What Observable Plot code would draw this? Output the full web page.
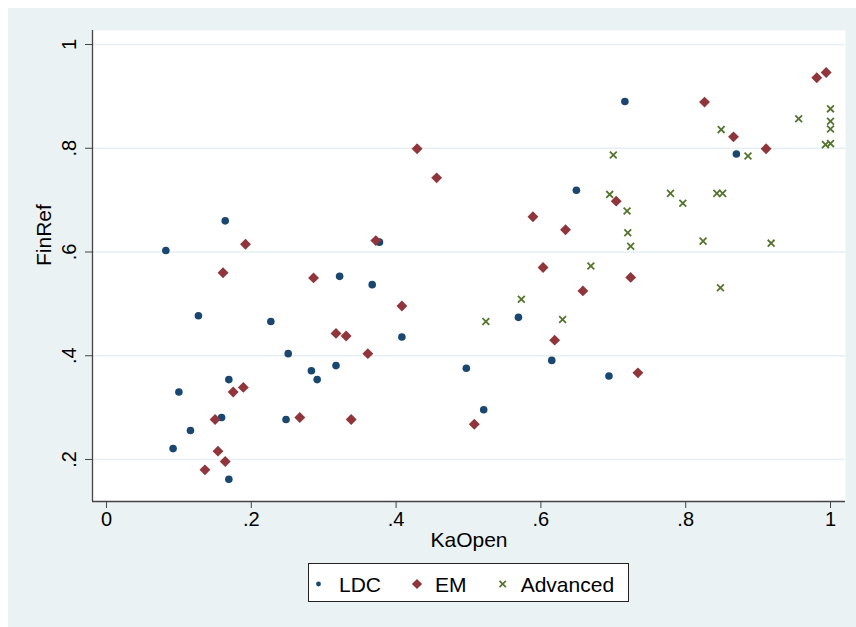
<!DOCTYPE html>
<html><head><meta charset="utf-8">
<script src="https://cdn.jsdelivr.net/npm/d3@7"></script>
<script src="https://cdn.jsdelivr.net/npm/@observablehq/plot@0.6"></script>
<style>
html,body{margin:0;padding:0;background:#fff;}
#wrap{position:relative;width:856px;height:627px;overflow:hidden;font-family:"Liberation Sans",Arial,sans-serif;}
#panel{position:absolute;left:8px;top:8px;right:0;bottom:0;background:#EAF2F3;}
#chart{position:absolute;left:0;top:0;}
#legend{position:absolute;left:308px;top:563px;}
</style></head><body>
<div id="wrap"><div id="panel"></div><div id="chart"></div><div id="legend"></div></div>
<script>
const seriesNames = ["LDC", "EM", "Advanced"];
const seriesColors = ["#1a476f", "#90353b", "#55752f"];

const ldcX = [0.082,0.164,0.377,0.716,0.870,0.649,0.569,0.615,0.497,0.694,0.521,0.322,0.367,0.127,0.227,0.408,0.251,0.283,0.317,0.291,0.169,0.100,0.159,0.248,0.116,0.092,0.169];
const ldcY = [0.603,0.660,0.619,0.890,0.789,0.719,0.474,0.391,0.376,0.361,0.296,0.553,0.537,0.477,0.466,0.436,0.404,0.371,0.381,0.354,0.354,0.330,0.281,0.277,0.256,0.221,0.162];

const emX = [0.192,0.372,0.429,0.456,0.826,0.981,0.994,0.866,0.911,0.704,0.589,0.634,0.603,0.724,0.658,0.619,0.734,0.508,0.161,0.286,0.408,0.317,0.331,0.361,0.189,0.175,0.150,0.267,0.338,0.154,0.164,0.136];
const emY = [0.615,0.622,0.799,0.743,0.889,0.936,0.946,0.822,0.799,0.698,0.668,0.643,0.570,0.551,0.525,0.430,0.367,0.268,0.560,0.550,0.496,0.443,0.438,0.404,0.339,0.330,0.277,0.281,0.277,0.216,0.196,0.180];

const advX = [1.000,0.956,1.000,1.000,0.849,0.993,1.000,0.886,0.700,0.695,0.779,0.796,0.843,0.851,0.719,0.720,0.724,0.824,0.918,0.669,0.848,0.573,0.524,0.630];
const advY = [0.876,0.857,0.852,0.837,0.836,0.807,0.809,0.785,0.787,0.711,0.713,0.694,0.713,0.713,0.679,0.637,0.611,0.621,0.617,0.573,0.531,0.509,0.466,0.470];

const xTicks = [0, 0.2, 0.4, 0.6, 0.8, 1];
const xTickLabels = ["0", ".2", ".4", ".6", ".8", "1"];
const yTicks = [0.2, 0.4, 0.6, 0.8, 1];
const yTickLabels = [".2", ".4", ".6", ".8", "1"];
const xTitle = "KaOpen";
const yTitle = "FinRef";

const xDomain = [-0.0193, 1.0207];
const yDomain = [0.119, 1.027];

const rows = (xs, ys, s) => xs.map((x, i) => ({x, y: ys[i], s}));
const ldc = rows(ldcX, ldcY, seriesNames[0]);
const em = rows(emX, emY, seriesNames[1]);
const adv = rows(advX, advY, seriesNames[2]);

const font = "'Liberation Sans', Arial, sans-serif";

const chart = Plot.plot({
  width: 856,
  height: 560,
  marginLeft: 92,
  marginRight: 11,
  marginTop: 30,
  marginBottom: 59,
  style: {background: "transparent", fontFamily: font, fontSize: "20px", color: "#000", overflow: "visible"},
  x: {domain: xDomain},
  y: {domain: yDomain},
  marks: [
    Plot.frame({fill: "white", stroke: "none"}),
    Plot.ruleY(yTicks, {stroke: "#E6EFF1", strokeWidth: 1.6}),
    Plot.ruleX([xDomain[0]], {stroke: "#444", strokeWidth: 1.3}),
    Plot.ruleY([yDomain[0]], {stroke: "#444", strokeWidth: 1.3}),
    Plot.axisX({ticks: xTicks, tickFormat: (d, i) => xTickLabels[i], tickSize: 7, tickPadding: 3, fontSize: 20, stroke: "#444", fill: "#000", label: null}),
    Plot.axisY({ticks: yTicks, tickFormat: (d, i) => yTickLabels[i], tickSize: 7, tickPadding: 10, tickRotate: -90, fontSize: 20, stroke: "#444", fill: "#000", label: null}),
    Plot.text([xTitle], {text: d => d, frameAnchor: "bottom", dy: 38.5, fontSize: 21, lineAnchor: "middle", fill: "#000"}),
    Plot.text([yTitle], {text: d => d, frameAnchor: "left", dx: -48.5, rotate: -90, fontSize: 21, lineAnchor: "middle", fill: "#000"}),
    Plot.dot(ldc, {x: "x", y: "y", r: 3.8, symbol: "circle", fill: seriesColors[0], stroke: "none"}),
    Plot.dot(em, {x: "x", y: "y", r: 4.9, symbol: "diamond2", fill: seriesColors[1], stroke: "none"}),
    Plot.dot(adv, {x: "x", y: "y", r: 3.2, symbol: "times", stroke: seriesColors[2], strokeWidth: 1.8, fill: "none"})
  ]
});
document.getElementById("chart").appendChild(chart);

// Legend
const lg = d3.select("#legend").append("svg")
  .attr("width", 321).attr("height", 39).style("display", "block")
  .style("font-family", font);
lg.append("rect").attr("x", 0.5).attr("y", 0.5).attr("width", 320).attr("height", 38)
  .attr("fill", "#fff").attr("stroke", "#222").attr("stroke-width", 1);
const legendMarkerX = [10.5, 109, 194.7];
const legendTextX = [31, 127, 212.7];
const syms = [d3.symbolCircle, d3.symbolDiamond2, d3.symbolTimes];
const rs = [2.4, 4.6, 3];
seriesNames.forEach((name, i) => {
  const g = lg.append("path")
    .attr("transform", `translate(${legendMarkerX[i]},21)`)
    .attr("d", d3.symbol(syms[i], Math.PI * rs[i] * rs[i])());
  if (i === 2) g.attr("fill", "none").attr("stroke", seriesColors[i]).attr("stroke-width", 1.7);
  else g.attr("fill", seriesColors[i]);
  lg.append("text").attr("x", legendTextX[i]).attr("y", 28.5)
    .attr("font-size", 21).attr("fill", "#000").text(name);
});
</script>
</body></html>
